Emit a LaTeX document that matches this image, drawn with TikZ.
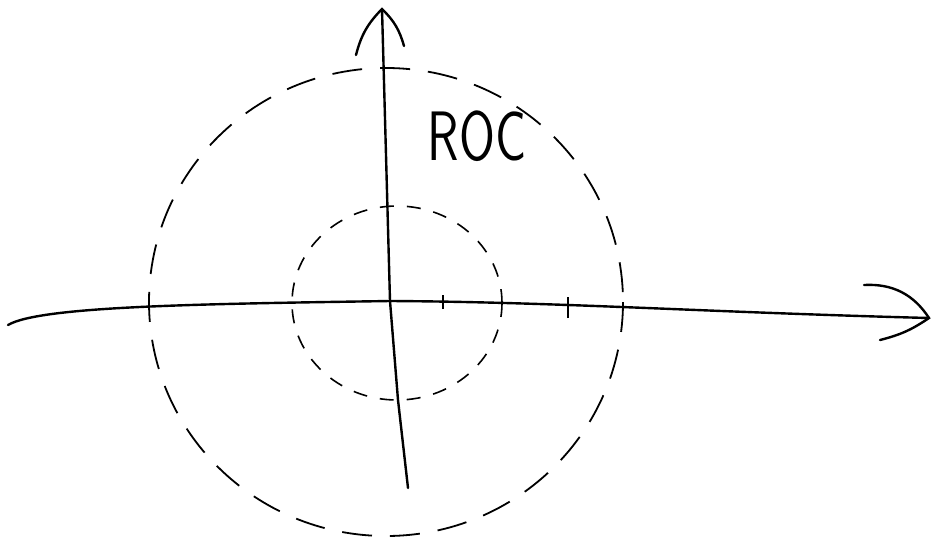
\documentclass[tikz,border=0pt]{standalone}
\usepackage{tikz}

\begin{document}
\begin{tikzpicture}[x=1pt, y=-1pt,
		axis/.style={line width=2.4pt, line cap=round},
		roc/.style={line width=1.8pt, dash pattern=on 30pt off 18pt},
		pole/.style={line width=1.6pt, dash pattern=on 14pt off 13pt},
		tick/.style={line width=2.2pt},
		label/.style={font=\sffamily\fontsize{70}{70}\selectfont, xscale=0.74, inner sep=0pt}]
		\useasboundingbox (0,0) rectangle (933,541);

		\coordinate (o) at (390,301);
		\coordinate (xl) at (8,325);
		\coordinate (xr) at (929,318);
		\coordinate (xru) at (864,285);
		\coordinate (xrd) at (880,340);
		\coordinate (yt) at (382,9);
		\coordinate (ytl) at (356,55);
		\coordinate (ytr) at (404,46);
		\coordinate (ylow) at (398,400);
		\coordinate (yb) at (408,488);

		\draw[roc] (386,302) ellipse [x radius=237, y radius=234];
		\draw[pole] (397,303) ellipse [x radius=105, y radius=97];

		\draw[axis] (xl) .. controls (40,306) and (200,304) .. (o)
			.. controls (560,302) and (700,312) .. (xr);
		\draw[axis] (xru) to[bend left=30] (xr) to[bend left=10] (xrd);
		\draw[axis] (yb) -- (ylow) -- (o) -- (yt);
		\draw[axis] (ytl) to[bend left=15] (yt) to[bend left=15] (ytr);

		\coordinate (t1) at (443,302);
		\coordinate (t2) at (568,309);
		\draw[tick] ([yshift=-7pt]t1) -- ([yshift=7pt]t1);
		\draw[tick] ([yshift=-9pt]t2) -- ([yshift=12pt]t2);

		\node[label] (roc) at (477,136) {ROC};
	\end{tikzpicture}
\end{document}
